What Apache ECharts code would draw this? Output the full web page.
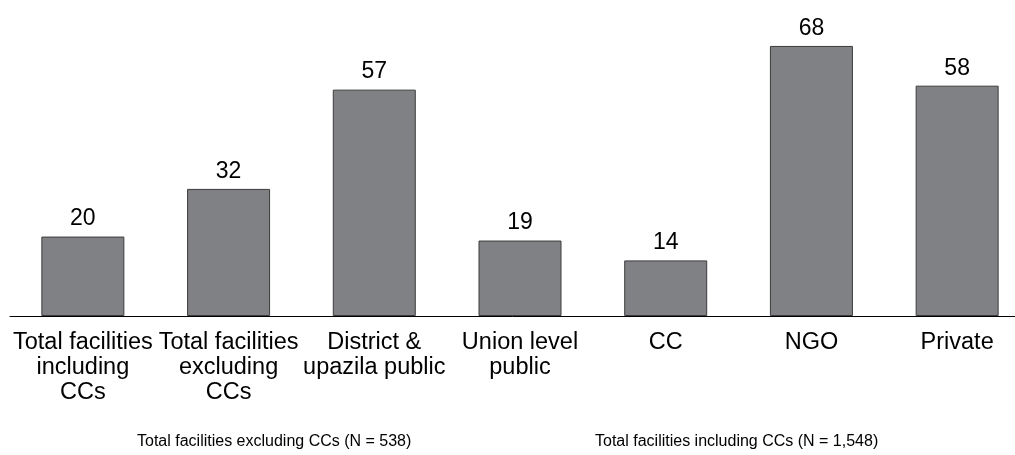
<!DOCTYPE html>
<html>
<head>
    <meta charset="utf-8">
    <title>Facilities bar chart</title>
    <script src="https://cdn.jsdelivr.net/npm/echarts@6/dist/echarts.min.js"></script>
</head>
<body style="margin:0">
    <div id="main" style="width: 1015px;height:455px;"></div>
    <script type="text/javascript">

    var categories = [
        'Total facilities\nincluding\nCCs',
        'Total facilities\nexcluding\nCCs',
        'District &\nupazila public',
        'Union level\npublic',
        'CC',
        'NGO',
        'Private'
    ]
    var values = [20, 32, 57, 19, 14, 68, 58]
    var notes = ['Total facilities excluding CCs (N = 538)', 'Total facilities including CCs (N = 1,548)']

    var myChart = echarts.init(document.getElementById('main'));

    var option = {
        animation: false,
        textStyle: { fontFamily: 'Liberation Sans, Arial, sans-serif' },
        grid: { left: 10, width: 1020, top: 38, bottom: 139, containLabel: false, outerBoundsMode: 'none' },
        xAxis: {
            type: 'category',
            data: categories,
            axisLine: { lineStyle: { color: '#000', width: 1 } },
            axisTick: { show: false },
            axisLabel: {
                interval: 0,
                color: '#000',
                fontSize: 23.5,
                lineHeight: 25,
                margin: 14,
                align: 'center'
            }
        },
        yAxis: {
            type: 'value',
            min: 0,
            max: 70,
            show: false,
            splitLine: { show: false }
        },
        series: [{
            type: 'bar',
            data: values,
            barWidth: 83,
            itemStyle: { color: '#808184', borderColor: '#3c3c3c', borderWidth: 1 },
            label: {
                show: true,
                position: 'top',
                distance: 6,
                color: '#000',
                fontSize: 23
            }
        }],
        graphic: [
            { type: 'text', left: 137, top: 434, style: { text: notes[0], fontSize: 16, fill: '#000', fontFamily: 'Liberation Sans, Arial, sans-serif' } },
            { type: 'text', left: 595, top: 434, style: { text: notes[1], fontSize: 16, fill: '#000', fontFamily: 'Liberation Sans, Arial, sans-serif' } }
        ]
    };

    myChart.setOption(option);
    </script>
</body>
</html>
